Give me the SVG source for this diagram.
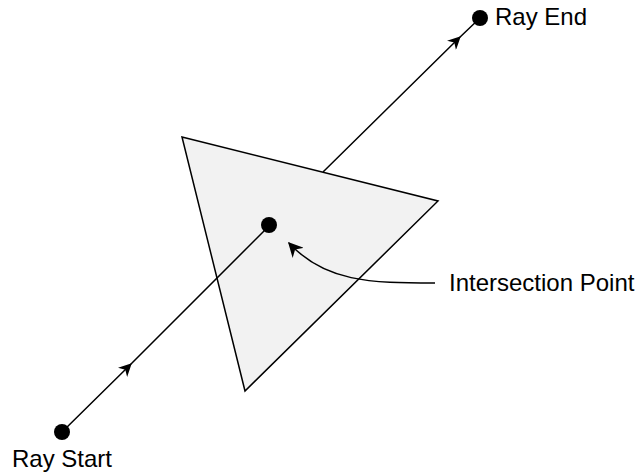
<svg xmlns="http://www.w3.org/2000/svg" width="640" height="472" viewBox="0 0 640 472">
<style>
.lbl{font-family:"Liberation Sans",Arial,sans-serif;font-size:24px;fill:#000}
.ln{fill:none;stroke:#000;stroke-width:1.5}
.dot{fill:#000}
</style>
<defs>
<marker id="arr" viewBox="0 0 10 10" refX="7" refY="5" markerWidth="13" markerHeight="13" markerUnits="userSpaceOnUse" orient="auto">
<path d="M0,0 L10,5 L0,10 L3,5 z" fill="#000"/>
</marker>
<marker id="arr2" viewBox="0 0 10 10" refX="9" refY="5" markerWidth="15" markerHeight="15" markerUnits="userSpaceOnUse" orient="auto">
<path d="M0,0 L10,5 L0,10 L3,5 z" fill="#000"/>
</marker>
</defs>
<g id="triangle">
<polygon points="182,137 438,201 245,391" fill="#f2f2f2" stroke="#000" stroke-width="1.5" stroke-linejoin="miter"/>
</g>
<g id="connectors">
<path class="ln" d="M62,432 L129,366 L269,226" marker-mid="url(#arr)"/>
<path class="ln" d="M323,172 L458,39 L480,18" marker-mid="url(#arr)"/>
<path class="ln" d="M435,283 C370,283 325,282 289,243" marker-end="url(#arr2)"/>
</g>
<g id="ray-start">
<circle class="dot" cx="62" cy="432" r="8"/>
<text class="lbl" x="12" y="467">Ray Start</text>
</g>
<g id="ray-end">
<circle class="dot" cx="480" cy="18" r="8"/>
<text class="lbl" x="495" y="25">Ray End</text>
</g>
<g id="intersection">
<circle class="dot" cx="269" cy="225" r="8"/>
<text class="lbl" x="449" y="291">Intersection Point</text>
</g>
</svg>
